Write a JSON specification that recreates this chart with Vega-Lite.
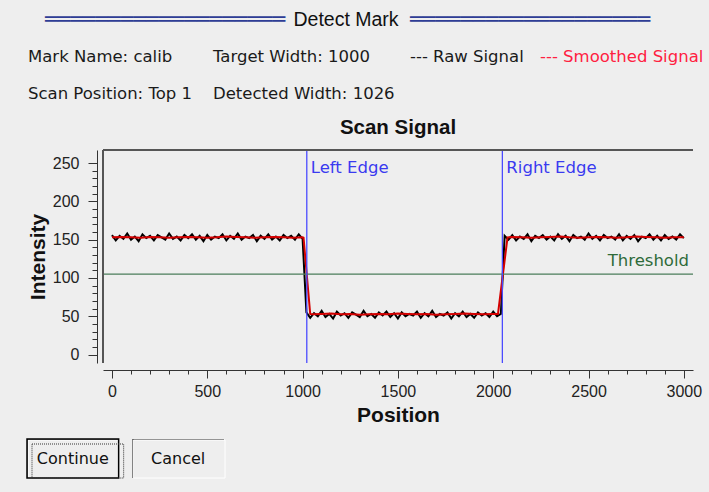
{
  "$schema": "https://vega.github.io/schema/vega-lite/v6.json",
  "background": "#eeeeee",
  "padding": {"left": 26, "top": 0, "right": 12, "bottom": 20},
  "spacing": 13,
  "config": {
    "view": {"stroke": null},
    "numberFormat": "d",
    "axisX": {
      "offset": 7, "grid": false, "labelOverlap": false, "labelFlush": false,
      "domainColor": "#333333", "tickColor": "#333333",
      "labelFont": "Liberation Sans", "labelFontSize": 16, "labelColor": "#222222", "labelPadding": 5,
      "titleFont": "Liberation Sans", "titleFontSize": 21, "titleFontWeight": "bold", "titleColor": "#111111", "titlePadding": 5
    },
    "axisY": {
      "offset": 6, "grid": false, "labelOverlap": false, "labelFlush": false,
      "domainColor": "#333333", "tickColor": "#333333",
      "labelFont": "Liberation Sans", "labelFontSize": 16, "labelColor": "#222222", "labelPadding": 9,
      "titleFont": "Liberation Sans", "titleFontSize": 21, "titleFontWeight": "bold", "titleColor": "#111111", "titlePadding": 4
    }
  },
  "datasets": {
    "titlebar_stripes": [{"slot": 1, "line": 0}, {"slot": 3, "line": 0}],
    "titlebar": [{"slot": 2, "line": 0, "text": "Detect Mark"}],
    "header": [
      {"text": "Mark Name: calib", "col": 1, "line": 1, "kind": "info"},
      {"text": "Target Width: 1000", "col": 2, "line": 1, "kind": "info"},
      {"text": "--- Raw Signal", "col": 3, "line": 1, "kind": "raw"},
      {"text": "--- Smoothed Signal", "col": 4, "line": 1, "kind": "smoothed"},
      {"text": "Scan Position: Top 1", "col": 1, "line": 2, "kind": "info"},
      {"text": "Detected Width: 1026", "col": 2, "line": 2, "kind": "info"}
    ],
    "raw": [
      {"position": 0, "intensity": 156}, {"position": 20, "intensity": 149}, {"position": 40, "intensity": 155}, {"position": 60, "intensity": 151}, {"position": 80, "intensity": 158},
      {"position": 100, "intensity": 150}, {"position": 120, "intensity": 154}, {"position": 140, "intensity": 148}, {"position": 160, "intensity": 157}, {"position": 180, "intensity": 152},
      {"position": 200, "intensity": 155}, {"position": 220, "intensity": 149}, {"position": 240, "intensity": 156}, {"position": 260, "intensity": 153}, {"position": 280, "intensity": 150},
      {"position": 300, "intensity": 158}, {"position": 320, "intensity": 151}, {"position": 340, "intensity": 154}, {"position": 360, "intensity": 149}, {"position": 380, "intensity": 156},
      {"position": 400, "intensity": 152}, {"position": 420, "intensity": 157}, {"position": 440, "intensity": 150}, {"position": 460, "intensity": 155}, {"position": 480, "intensity": 148},
      {"position": 500, "intensity": 156}, {"position": 520, "intensity": 150}, {"position": 540, "intensity": 154}, {"position": 560, "intensity": 152}, {"position": 580, "intensity": 157},
      {"position": 600, "intensity": 149}, {"position": 620, "intensity": 155}, {"position": 640, "intensity": 151}, {"position": 660, "intensity": 158}, {"position": 680, "intensity": 150},
      {"position": 700, "intensity": 154}, {"position": 720, "intensity": 152}, {"position": 740, "intensity": 156}, {"position": 760, "intensity": 148}, {"position": 780, "intensity": 155},
      {"position": 800, "intensity": 151}, {"position": 820, "intensity": 157}, {"position": 840, "intensity": 150}, {"position": 860, "intensity": 154}, {"position": 880, "intensity": 149},
      {"position": 900, "intensity": 156}, {"position": 920, "intensity": 152}, {"position": 940, "intensity": 155}, {"position": 960, "intensity": 150}, {"position": 980, "intensity": 157},
      {"position": 1000, "intensity": 151},
      {"position": 1020, "intensity": 55}, {"position": 1040, "intensity": 48}, {"position": 1060, "intensity": 54}, {"position": 1080, "intensity": 50}, {"position": 1100, "intensity": 57},
      {"position": 1120, "intensity": 49}, {"position": 1140, "intensity": 53}, {"position": 1160, "intensity": 47}, {"position": 1180, "intensity": 56}, {"position": 1200, "intensity": 51},
      {"position": 1220, "intensity": 54}, {"position": 1240, "intensity": 48}, {"position": 1260, "intensity": 55}, {"position": 1280, "intensity": 52}, {"position": 1300, "intensity": 49},
      {"position": 1320, "intensity": 57}, {"position": 1340, "intensity": 50}, {"position": 1360, "intensity": 53}, {"position": 1380, "intensity": 48}, {"position": 1400, "intensity": 55},
      {"position": 1420, "intensity": 51}, {"position": 1440, "intensity": 56}, {"position": 1460, "intensity": 49}, {"position": 1480, "intensity": 54}, {"position": 1500, "intensity": 47},
      {"position": 1520, "intensity": 55}, {"position": 1540, "intensity": 50}, {"position": 1560, "intensity": 53}, {"position": 1580, "intensity": 51}, {"position": 1600, "intensity": 56},
      {"position": 1620, "intensity": 48}, {"position": 1640, "intensity": 54}, {"position": 1660, "intensity": 50}, {"position": 1680, "intensity": 57}, {"position": 1700, "intensity": 49},
      {"position": 1720, "intensity": 53}, {"position": 1740, "intensity": 51}, {"position": 1760, "intensity": 55}, {"position": 1780, "intensity": 47}, {"position": 1800, "intensity": 54},
      {"position": 1820, "intensity": 50}, {"position": 1840, "intensity": 56}, {"position": 1860, "intensity": 49}, {"position": 1880, "intensity": 53}, {"position": 1900, "intensity": 48},
      {"position": 1920, "intensity": 55}, {"position": 1940, "intensity": 51}, {"position": 1960, "intensity": 54}, {"position": 1980, "intensity": 49}, {"position": 2000, "intensity": 56},
      {"position": 2020, "intensity": 50}, {"position": 2040, "intensity": 53},
      {"position": 2060, "intensity": 155}, {"position": 2080, "intensity": 150}, {"position": 2100, "intensity": 156}, {"position": 2120, "intensity": 149}, {"position": 2140, "intensity": 154},
      {"position": 2160, "intensity": 151}, {"position": 2180, "intensity": 157}, {"position": 2200, "intensity": 148}, {"position": 2220, "intensity": 155}, {"position": 2240, "intensity": 152},
      {"position": 2260, "intensity": 156}, {"position": 2280, "intensity": 150}, {"position": 2300, "intensity": 154}, {"position": 2320, "intensity": 149}, {"position": 2340, "intensity": 157},
      {"position": 2360, "intensity": 151}, {"position": 2380, "intensity": 155}, {"position": 2400, "intensity": 148}, {"position": 2420, "intensity": 156}, {"position": 2440, "intensity": 152},
      {"position": 2460, "intensity": 154}, {"position": 2480, "intensity": 150}, {"position": 2500, "intensity": 158}, {"position": 2520, "intensity": 151}, {"position": 2540, "intensity": 155},
      {"position": 2560, "intensity": 149}, {"position": 2580, "intensity": 156}, {"position": 2600, "intensity": 152}, {"position": 2620, "intensity": 154}, {"position": 2640, "intensity": 150},
      {"position": 2660, "intensity": 157}, {"position": 2680, "intensity": 149}, {"position": 2700, "intensity": 155}, {"position": 2720, "intensity": 151}, {"position": 2740, "intensity": 156},
      {"position": 2760, "intensity": 148}, {"position": 2780, "intensity": 154}, {"position": 2800, "intensity": 152}, {"position": 2820, "intensity": 157}, {"position": 2840, "intensity": 150},
      {"position": 2860, "intensity": 155}, {"position": 2880, "intensity": 149}, {"position": 2900, "intensity": 156}, {"position": 2920, "intensity": 151}, {"position": 2940, "intensity": 154},
      {"position": 2960, "intensity": 150}, {"position": 2980, "intensity": 157}, {"position": 3000, "intensity": 152}
    ],
    "smooth": [
      {"position": 0, "intensity": 153}, {"position": 50, "intensity": 153.5}, {"position": 100, "intensity": 153}, {"position": 150, "intensity": 152.5}, {"position": 200, "intensity": 153.5},
      {"position": 250, "intensity": 153}, {"position": 300, "intensity": 152.5}, {"position": 350, "intensity": 153}, {"position": 400, "intensity": 153.5}, {"position": 450, "intensity": 153},
      {"position": 500, "intensity": 152.5}, {"position": 550, "intensity": 153}, {"position": 600, "intensity": 154}, {"position": 650, "intensity": 153.5}, {"position": 700, "intensity": 153},
      {"position": 750, "intensity": 152.5}, {"position": 800, "intensity": 153}, {"position": 850, "intensity": 153.5}, {"position": 900, "intensity": 153}, {"position": 950, "intensity": 152.5},
      {"position": 1000, "intensity": 153}, {"position": 1005, "intensity": 152.5}, {"position": 1040, "intensity": 53}, {"position": 1050, "intensity": 52.5}, {"position": 1100, "intensity": 53},
      {"position": 1150, "intensity": 53.5}, {"position": 1200, "intensity": 52.5}, {"position": 1250, "intensity": 53}, {"position": 1300, "intensity": 52}, {"position": 1350, "intensity": 52.5},
      {"position": 1400, "intensity": 53}, {"position": 1450, "intensity": 52.5}, {"position": 1500, "intensity": 53.5}, {"position": 1550, "intensity": 53}, {"position": 1600, "intensity": 52.5},
      {"position": 1650, "intensity": 53}, {"position": 1700, "intensity": 52}, {"position": 1750, "intensity": 52.5}, {"position": 1800, "intensity": 53}, {"position": 1850, "intensity": 53.5},
      {"position": 1900, "intensity": 53}, {"position": 1950, "intensity": 52.5}, {"position": 2000, "intensity": 53}, {"position": 2025, "intensity": 53}, {"position": 2075, "intensity": 153},
      {"position": 2100, "intensity": 153.5}, {"position": 2150, "intensity": 153}, {"position": 2200, "intensity": 152.5}, {"position": 2250, "intensity": 153}, {"position": 2300, "intensity": 153.5},
      {"position": 2350, "intensity": 154}, {"position": 2400, "intensity": 153}, {"position": 2450, "intensity": 152.5}, {"position": 2500, "intensity": 153}, {"position": 2550, "intensity": 153.5},
      {"position": 2600, "intensity": 153}, {"position": 2650, "intensity": 152.5}, {"position": 2700, "intensity": 153}, {"position": 2750, "intensity": 154}, {"position": 2800, "intensity": 153.5},
      {"position": 2850, "intensity": 153}, {"position": 2900, "intensity": 152.5}, {"position": 2950, "intensity": 153}, {"position": 3000, "intensity": 153}
    ],
    "edges": [{"name": "Left Edge", "position": 1022}, {"name": "Right Edge", "position": 2048}],
    "threshold": [{"name": "Threshold", "level": 105}],
    "buttons": [{"label": "Continue"}, {"label": "Cancel"}]
  },
  "vconcat": [
    {
      "width": 590,
      "height": 104,
      "view": {"stroke": null, "fill": null},
      "layer": [
        {
          "data": {"name": "titlebar_stripes"},
          "mark": {"type": "text", "text": "═══════════════════", "font": "DejaVu Sans", "fontSize": 21, "color": "#2e3d96", "align": "center", "baseline": "middle"},
          "encoding": {
            "x": {"field": "slot", "type": "quantitative", "scale": {"domain": [1, 2, 3], "range": [62, 243, 427], "nice": false, "zero": false}, "axis": null},
            "y": {"field": "line", "type": "quantitative", "scale": {"domain": [0, 2], "range": [20, 94], "nice": false, "zero": false}, "axis": null}
          }
        },
        {
          "data": {"name": "titlebar"},
          "mark": {"type": "text", "font": "Liberation Sans", "fontSize": 19.5, "color": "#111111", "align": "center", "baseline": "middle"},
          "encoding": {
            "x": {"field": "slot", "type": "quantitative", "scale": {"domain": [1, 2, 3], "range": [62, 243, 427], "nice": false, "zero": false}, "axis": null},
            "y": {"field": "line", "type": "quantitative", "scale": {"domain": [0, 2], "range": [20, 94], "nice": false, "zero": false}, "axis": null},
            "text": {"field": "text"}
          }
        },
        {
          "data": {"name": "header"},
          "mark": {"type": "text", "font": "DejaVu Sans", "fontSize": 16.5, "align": "left", "baseline": "middle"},
          "encoding": {
            "x": {"field": "col", "type": "quantitative", "scale": {"domain": [1, 2, 3, 4], "range": [-75, 110, 307, 437], "nice": false, "zero": false}, "axis": null},
            "y": {"field": "line", "type": "quantitative", "scale": {"domain": [0, 2], "range": [20, 94], "nice": false, "zero": false}, "axis": null},
            "text": {"field": "text"},
            "color": {"field": "kind", "type": "nominal", "scale": {"domain": ["info", "raw", "smoothed"], "range": ["#1a1a1a", "#1a1a1a", "#ff2040"]}, "legend": null}
          }
        }
      ],
      "resolve": {"scale": {"x": "independent"}}
    },
    {
      "width": 590,
      "height": 213,
      "view": {"stroke": null, "fill": null},
      "title": {"text": "Scan Signal", "font": "Liberation Sans", "fontSize": 20.5, "fontWeight": "bold", "color": "#111111", "offset": 11, "anchor": "middle"},
      "layer": [
        {
          "data": {"name": "raw"},
          "mark": {"type": "line", "color": "#000000", "strokeWidth": 2},
          "encoding": {
            "x": {"field": "position", "type": "quantitative", "scale": {"domain": [-47, 3048], "nice": false, "zero": false},
              "axis": {"title": "Position", "values": [0, 100, 200, 300, 400, 500, 600, 700, 800, 900, 1000, 1100, 1200, 1300, 1400, 1500, 1600, 1700, 1800, 1900, 2000, 2100, 2200, 2300, 2400, 2500, 2600, 2700, 2800, 2900, 3000], "labelExpr": "datum.value % 500 === 0 ? datum.label : ''", "tickSize": {"condition": {"test": "datum.value % 500 === 0", "value": 8}, "value": 4}}},
            "y": {"field": "intensity", "type": "quantitative", "scale": {"domain": [-11, 267], "nice": false, "zero": false},
              "axis": {"title": "Intensity", "values": [0, 10, 20, 30, 40, 50, 60, 70, 80, 90, 100, 110, 120, 130, 140, 150, 160, 170, 180, 190, 200, 210, 220, 230, 240, 250], "labelExpr": "datum.value % 50 === 0 ? datum.label : ''", "tickSize": {"condition": {"test": "datum.value % 50 === 0", "value": 9}, "value": 5}}}
          }
        },
        {
          "data": {"name": "smooth"},
          "mark": {"type": "line", "color": "#d40000", "strokeWidth": 2},
          "encoding": {
            "x": {"field": "position", "type": "quantitative", "scale": {"domain": [-47, 3048], "nice": false, "zero": false},
              "axis": {"title": "Position", "values": [0, 100, 200, 300, 400, 500, 600, 700, 800, 900, 1000, 1100, 1200, 1300, 1400, 1500, 1600, 1700, 1800, 1900, 2000, 2100, 2200, 2300, 2400, 2500, 2600, 2700, 2800, 2900, 3000], "labelExpr": "datum.value % 500 === 0 ? datum.label : ''", "tickSize": {"condition": {"test": "datum.value % 500 === 0", "value": 8}, "value": 4}}},
            "y": {"field": "intensity", "type": "quantitative", "scale": {"domain": [-11, 267], "nice": false, "zero": false},
              "axis": {"title": "Intensity", "values": [0, 10, 20, 30, 40, 50, 60, 70, 80, 90, 100, 110, 120, 130, 140, 150, 160, 170, 180, 190, 200, 210, 220, 230, 240, 250], "labelExpr": "datum.value % 50 === 0 ? datum.label : ''", "tickSize": {"condition": {"test": "datum.value % 50 === 0", "value": 9}, "value": 5}}}
          }
        },
        {
          "data": {"name": "threshold"},
          "mark": {"type": "rule", "color": "#4a7d5a", "strokeWidth": 1.2},
          "encoding": {
            "y": {"field": "level", "type": "quantitative", "scale": {"domain": [-11, 267], "nice": false, "zero": false},
              "axis": {"title": "Intensity", "values": [0, 10, 20, 30, 40, 50, 60, 70, 80, 90, 100, 110, 120, 130, 140, 150, 160, 170, 180, 190, 200, 210, 220, 230, 240, 250], "labelExpr": "datum.value % 50 === 0 ? datum.label : ''", "tickSize": {"condition": {"test": "datum.value % 50 === 0", "value": 9}, "value": 5}}}
          }
        },
        {
          "data": {"name": "threshold"},
          "mark": {"type": "text", "align": "right", "baseline": "bottom", "dx": -4, "dy": -5, "font": "DejaVu Sans", "fontSize": 16.5, "color": "#2f6b3a"},
          "encoding": {
            "x": {"value": "width"},
            "y": {"field": "level", "type": "quantitative", "scale": {"domain": [-11, 267], "nice": false, "zero": false},
              "axis": {"title": "Intensity", "values": [0, 10, 20, 30, 40, 50, 60, 70, 80, 90, 100, 110, 120, 130, 140, 150, 160, 170, 180, 190, 200, 210, 220, 230, 240, 250], "labelExpr": "datum.value % 50 === 0 ? datum.label : ''", "tickSize": {"condition": {"test": "datum.value % 50 === 0", "value": 9}, "value": 5}}},
            "text": {"field": "name"}
          }
        },
        {
          "data": {"name": "edges"},
          "mark": {"type": "rule", "color": "#4b4bff", "strokeWidth": 1.3},
          "encoding": {
            "x": {"field": "position", "type": "quantitative", "scale": {"domain": [-47, 3048], "nice": false, "zero": false},
              "axis": {"title": "Position", "values": [0, 100, 200, 300, 400, 500, 600, 700, 800, 900, 1000, 1100, 1200, 1300, 1400, 1500, 1600, 1700, 1800, 1900, 2000, 2100, 2200, 2300, 2400, 2500, 2600, 2700, 2800, 2900, 3000], "labelExpr": "datum.value % 500 === 0 ? datum.label : ''", "tickSize": {"condition": {"test": "datum.value % 500 === 0", "value": 8}, "value": 4}}}
          }
        },
        {
          "data": {"name": "edges"},
          "mark": {"type": "text", "align": "left", "baseline": "middle", "dx": 4, "font": "DejaVu Sans", "fontSize": 16.5, "color": "#3a3af0"},
          "encoding": {
            "x": {"field": "position", "type": "quantitative", "scale": {"domain": [-47, 3048], "nice": false, "zero": false},
              "axis": {"title": "Position", "values": [0, 100, 200, 300, 400, 500, 600, 700, 800, 900, 1000, 1100, 1200, 1300, 1400, 1500, 1600, 1700, 1800, 1900, 2000, 2100, 2200, 2300, 2400, 2500, 2600, 2700, 2800, 2900, 3000], "labelExpr": "datum.value % 500 === 0 ? datum.label : ''", "tickSize": {"condition": {"test": "datum.value % 500 === 0", "value": 8}, "value": 4}}},
            "y": {"datum": 244, "type": "quantitative", "scale": {"domain": [-11, 267], "nice": false, "zero": false},
              "axis": {"title": "Intensity", "values": [0, 10, 20, 30, 40, 50, 60, 70, 80, 90, 100, 110, 120, 130, 140, 150, 160, 170, 180, 190, 200, 210, 220, 230, 240, 250], "labelExpr": "datum.value % 50 === 0 ? datum.label : ''", "tickSize": {"condition": {"test": "datum.value % 50 === 0", "value": 9}, "value": 5}}},
            "text": {"field": "name"}
          }
        },
        {
          "data": {"values": [{"border": "top"}]},
          "mark": {"type": "rule", "color": "#555555", "strokeWidth": 2},
          "encoding": {
            "y": {"datum": 267, "type": "quantitative", "scale": {"domain": [-11, 267], "nice": false, "zero": false},
              "axis": {"title": "Intensity", "values": [0, 10, 20, 30, 40, 50, 60, 70, 80, 90, 100, 110, 120, 130, 140, 150, 160, 170, 180, 190, 200, 210, 220, 230, 240, 250], "labelExpr": "datum.value % 50 === 0 ? datum.label : ''", "tickSize": {"condition": {"test": "datum.value % 50 === 0", "value": 9}, "value": 5}}}
          }
        },
        {
          "data": {"values": [{"border": "left"}]},
          "mark": {"type": "rule", "color": "#555555", "strokeWidth": 2},
          "encoding": {
            "x": {"datum": -47, "type": "quantitative", "scale": {"domain": [-47, 3048], "nice": false, "zero": false},
              "axis": {"title": "Position", "values": [0, 100, 200, 300, 400, 500, 600, 700, 800, 900, 1000, 1100, 1200, 1300, 1400, 1500, 1600, 1700, 1800, 1900, 2000, 2100, 2200, 2300, 2400, 2500, 2600, 2700, 2800, 2900, 3000], "labelExpr": "datum.value % 500 === 0 ? datum.label : ''", "tickSize": {"condition": {"test": "datum.value % 500 === 0", "value": 8}, "value": 4}}}
          }
        }
      ]
    },
    {
      "width": 590,
      "height": 39,
      "view": {"stroke": null, "fill": null},
      "data": {"name": "buttons"},
      "encoding": {
        "x": {"field": "label", "type": "nominal", "sort": ["Continue", "Cancel"], "scale": {"range": [-76, 121], "paddingInner": 0.13, "paddingOuter": 0}, "axis": null}
      },
      "layer": [
        {"mark": {"type": "rect", "fill": "#2a2a2a"}},
        {"mark": {"type": "rect", "fill": "#eeeeee", "stroke": "#ffffff", "strokeWidth": 1, "xOffset": 1, "yOffset": 1, "x2Offset": -2, "y2Offset": -2}},
        {"transform": [{"filter": "datum.label === 'Continue'"}], "mark": {"type": "rect", "filled": false, "stroke": "#000000", "strokeWidth": 1.5}},
        {"transform": [{"filter": "datum.label === 'Continue'"}], "mark": {"type": "rect", "filled": false, "stroke": "#333333", "strokeWidth": 1, "strokeDash": [1, 1], "xOffset": 5, "yOffset": 5, "x2Offset": -6, "y2Offset": -6}},
        {"mark": {"type": "text", "font": "DejaVu Sans", "fontSize": 16, "color": "#111111", "align": "center", "baseline": "middle"}, "encoding": {"text": {"field": "label"}}}
      ]
    }
  ]
}
